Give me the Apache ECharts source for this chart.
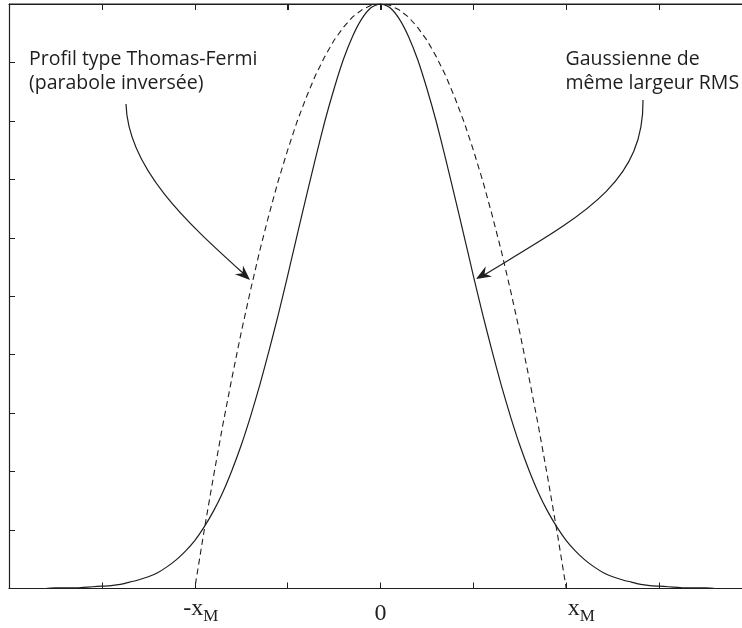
<!DOCTYPE html>
<html><head><meta charset="utf-8">
<script src="https://cdn.jsdelivr.net/npm/echarts@6.0.0/dist/echarts.min.js"></script>
<style>html,body{margin:0;padding:0;background:#fff}#c{width:742px;height:628px}</style>
</head><body><div id="c"></div><script>
// x positions, in units of x_M
const xs = [-2.00,-1.95,-1.90,-1.85,-1.80,-1.75,-1.70,-1.65,-1.60,-1.55,-1.50,-1.45,-1.40,-1.35,-1.30,-1.25,-1.20,-1.15,-1.10,-1.05,
 -1.00,-0.95,-0.90,-0.85,-0.80,-0.75,-0.70,-0.65,-0.60,-0.55,-0.50,-0.45,-0.40,-0.35,-0.30,-0.25,-0.20,-0.15,-0.10,-0.05,
 0.00,0.05,0.10,0.15,0.20,0.25,0.30,0.35,0.40,0.45,0.50,0.55,0.60,0.65,0.70,0.75,0.80,0.85,0.90,0.95,
 1.00,1.05,1.10,1.15,1.20,1.25,1.30,1.35,1.40,1.45,1.50,1.55,1.60,1.65,1.70,1.75,1.80,1.85,1.90,1.95,2.00];
// Gaussian of same RMS width (solid)
const gaussian = [0.000,0.000,0.000,0.000,0.000,0.001,0.001,0.001,0.002,0.003,0.004,0.005,0.007,0.011,0.015,0.020,0.027,0.037,0.049,0.064,
 0.082,0.105,0.132,0.164,0.202,0.245,0.294,0.348,0.407,0.469,0.535,0.603,0.670,0.736,0.799,0.855,0.905,0.945,0.975,0.994,
 1.000,0.994,0.975,0.945,0.905,0.855,0.799,0.736,0.670,0.603,0.535,0.469,0.407,0.348,0.294,0.245,0.202,0.164,0.132,0.105,
 0.082,0.064,0.049,0.037,0.027,0.020,0.015,0.011,0.007,0.005,0.004,0.003,0.002,0.001,0.001,0.001,0.000,0.000,0.000,0.000,0.000];
// Thomas-Fermi profile (dashed, inverted parabola)
const thomasFermi = [0,0,0,0,0,0,0,0,0,0,0,0,0,0,0,0,0,0,0,0,
 0.000,0.098,0.190,0.278,0.360,0.438,0.510,0.578,0.640,0.698,0.750,0.798,0.840,0.878,0.910,0.938,0.960,0.978,0.990,0.998,
 1.000,0.998,0.990,0.978,0.960,0.938,0.910,0.878,0.840,0.798,0.750,0.698,0.640,0.578,0.510,0.438,0.360,0.278,0.190,0.098,
 0.000,0,0,0,0,0,0,0,0,0,0,0,0,0,0,0,0,0,0,0,0];
// tick labels
const tickValues = [-1, 0, 1];
const tickMain = ['-x', '0', 'x'];
const tickSub = ['M', '', 'M'];
const xMin = -2, xMax = 2, xStep = 0.5;
const annotLeft = ['Profil type Thomas-Fermi', '(parabole inversée)'];
const annotRight = ['Gaussienne de', 'même largeur RMS'];

const ink = '#1e1e1e';
const chart = echarts.init(document.getElementById('c'), null, {renderer: 'canvas'});
const pairs = ys => xs.map((x, i) => [x, ys[i]]);

const serif = '"Liberation Serif", "DejaVu Serif", serif';
function xLabel(v) {
  const i = tickValues.findIndex(t => Math.abs(t - v) < 1e-9);
  if (i < 0) return '';
  if (!tickSub[i]) return '{z|' + tickMain[i] + '}';
  return (i === 0 ? '{m1|' : '{m2|') + tickMain[i] + '}{s|' + tickSub[i] + '}';
}
const tickStyle = () => ({show: true, inside: true, length: 6, lineStyle: {color: ink, width: 1}});
const lineAxis = () => ({show: true, onZero: false, lineStyle: {color: ink, width: 1.2}});
const ghostLabel = () => ({show: true, color: 'rgba(0,0,0,0)'});

function headPts(tip, from, len, half, notch) {
  const dx = tip[0] - from[0], dy = tip[1] - from[1];
  const L = Math.hypot(dx, dy), ux = dx / L, uy = dy / L, nx = -uy, ny = ux;
  return [tip,
    [tip[0] - len * ux + half * nx, tip[1] - len * uy + half * ny],
    [tip[0] - notch * ux, tip[1] - notch * uy],
    [tip[0] - len * ux - half * nx, tip[1] - len * uy - half * ny]];
}
const leftArrow = {x1: 126, y1: 104, cpx1: 128, cpy1: 170, cpx2: 190, cpy2: 225, x2: 244, y2: 274};
const rightArrow = {x1: 643, y1: 100, cpx1: 644, cpy1: 185, cpx2: 581, cpy2: 216, x2: 484, y2: 275};

const option = {
  animation: false,
  backgroundColor: '#fff',
  grid: {left: 9, top: 4, width: 743, height: 584.5, containLabel: false, outerBoundsMode: 'none'},
  xAxis: [
    {type: 'value', min: xMin, max: xMax, interval: xStep, position: 'bottom',
     axisLine: lineAxis(), axisTick: tickStyle(), splitLine: {show: false},
     axisLabel: {show: true, margin: 8, formatter: xLabel,
       rich: {
         m1: {fontFamily: serif, fontSize: 24, color: ink, verticalAlign: 'top', padding: [0, 0, 0, 12]},
         m2: {fontFamily: serif, fontSize: 24, color: ink, verticalAlign: 'top', padding: [0, 0, 0, 30]},
         s: {fontFamily: serif, fontSize: 17, color: ink, verticalAlign: 'top', padding: [12, 0, 0, 0]},
         z: {fontFamily: serif, fontSize: 24, color: ink, verticalAlign: 'top', padding: [5, 0, 0, 0]}
       }}},
    {type: 'value', min: xMin, max: xMax, interval: xStep, position: 'top',
     axisLine: lineAxis(), axisTick: tickStyle(), splitLine: {show: false}, axisLabel: ghostLabel()}
  ],
  yAxis: [
    {type: 'value', min: 0, max: 1, interval: 0.1, position: 'left',
     axisLine: lineAxis(), axisTick: tickStyle(), splitLine: {show: false}, axisLabel: ghostLabel()}
  ],
  series: [
    {name: 'Thomas-Fermi', type: 'line', data: pairs(thomasFermi), showSymbol: false, symbol: 'none',
     lineStyle: {color: ink, width: 1.1, type: [6, 4]}},
    {name: 'Gaussienne', type: 'line', data: pairs(gaussian), showSymbol: false, symbol: 'none', smooth: 0.2,
     lineStyle: {color: ink, width: 1.2},
     markLine: {silent: true, animation: false, symbol: ['none', 'none'], label: {show: false},
       lineStyle: {color: ink, width: 1.2, type: 'solid'}, data: [{yAxis: 1}]}}
  ]
};
chart.setOption(option);

// top frame edge with inward ticks, placed through the axis scales
const frame = [];
const tl = chart.convertToPixel({xAxisIndex: 0, yAxisIndex: 0}, [xMin, 1]);
const tr = chart.convertToPixel({xAxisIndex: 0, yAxisIndex: 0}, [xMax, 1]);
if (tl && tr) {
  frame.push({type: 'line', shape: {x1: tl[0], y1: tl[1], x2: tr[0], y2: tr[1]}, style: {stroke: ink, lineWidth: 1.2}, z: 5});
  for (let v = xMin + xStep; v < xMax - 1e-9; v += xStep) {
    const p = chart.convertToPixel({xAxisIndex: 0, yAxisIndex: 0}, [v, 1]);
    frame.push({type: 'line', shape: {x1: Math.round(p[0]) + 0.5, y1: p[1], x2: Math.round(p[0]) + 0.5, y2: p[1] + 6}, style: {stroke: ink, lineWidth: 1}, z: 5});
  }
}

chart.setOption({
  graphic: frame.concat([
    {type: 'text', left: 29, top: 47.5, z: 10,
     style: {text: annotLeft.join('\n'), font: '19.5px "Open Sans"', fill: ink, lineHeight: 24}},
    {type: 'text', left: 565.5, top: 47.5, z: 10,
     style: {text: annotRight.join('\n'), font: '19.5px "Open Sans"', fill: ink, lineHeight: 24}},
    {type: 'bezierCurve', shape: leftArrow, style: {stroke: ink, lineWidth: 1.2, fill: null}, z: 10},
    {type: 'polygon', shape: {points: headPts([leftArrow.x2 + 6, leftArrow.y2 + 6], [leftArrow.cpx2, leftArrow.cpy2], 15, 6, 10)},
     style: {fill: ink}, z: 10},
    {type: 'bezierCurve', shape: rightArrow, style: {stroke: ink, lineWidth: 1.2, fill: null}, z: 10},
    {type: 'polygon', shape: {points: headPts([rightArrow.x2 - 8, rightArrow.y2 + 4], [rightArrow.cpx2, rightArrow.cpy2], 15, 6, 10)},
     style: {fill: ink}, z: 10}
  ])
});
</script></body></html>
